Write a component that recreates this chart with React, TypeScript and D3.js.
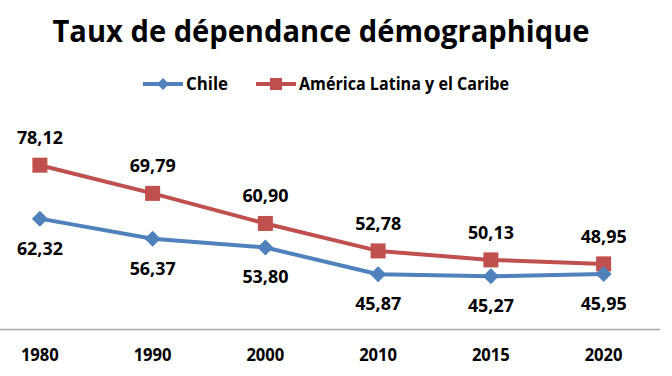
import React from "react";
import * as d3 from "d3";

const categories = ["1980", "1990", "2000", "2010", "2015", "2020"];
const chileValues = [62.32, 56.37, 53.8, 45.87, 45.27, 45.95];
const latamValues = [78.12, 69.79, 60.9, 52.78, 50.13, 48.95];
const seriesNames = ["Chile", "América Latina y el Caribe"];
const titleText = "Taux de dépendance démographique";

const W = 672;
const H = 376;
const FONT = "'Open Sans', 'DejaVu Sans', sans-serif";
const BLUE = "#4f81bd";
const RED = "#c0504d";

const fmt = (v: number) => v.toFixed(2).replace(".", ",");

export default function App() {
  const x = d3.scalePoint<string>().domain(categories).range([-16.5, 660]).padding(0.5);
  const y = d3.scaleLinear().domain([30, 90]).range([328, 125]);
  const line = d3
    .line<number>()
    .x((_, i) => x(categories[i]) as number)
    .y((d) => y(d));

  const diamond = (cx: number, cy: number, r: number) =>
    `M${cx},${cy - r}L${cx + r},${cy}L${cx},${cy + r}L${cx - r},${cy}Z`;

  return (
    <svg width={W} height={H} style={{ position: "absolute", left: 0, top: 0, background: "#fff" }}>
      <text x={321} y={42} textAnchor="middle" fontFamily={FONT} fontWeight="bold" fontSize={30.5} fill="#000" textLength={537} lengthAdjust="spacingAndGlyphs">
        {titleText}
      </text>
      {/* legend */}
      <g fontFamily={FONT} fontWeight="bold" fontSize={17} fill="#000">
        <line x1={143} x2={183} y1={84} y2={84} stroke={BLUE} strokeWidth={4} />
        <path d={diamond(163, 84, 6)} fill={BLUE} />
        <text x={186} y={90} textLength={42} lengthAdjust="spacingAndGlyphs">{seriesNames[0]}</text>
        <line x1={256} x2={296} y1={84} y2={84} stroke={RED} strokeWidth={4} />
        <rect x={270} y={78} width={12} height={12} fill={RED} />
        <text x={299} y={90} textLength={210} lengthAdjust="spacingAndGlyphs">{seriesNames[1]}</text>
      </g>
      {/* axis */}
      <line x1={0} x2={660} y1={329.5} y2={329.5} stroke="#a6a6a6" strokeWidth={1.5} />
      {categories.map((c) => (
        <text key={c} x={x(c)} y={361} textAnchor="middle" fontFamily={FONT} fontWeight="bold" fontSize={17} fill="#000" textLength={38} lengthAdjust="spacingAndGlyphs">
          {c}
        </text>
      ))}
      {/* lines */}
      <path d={line(latamValues) || ""} fill="none" stroke={RED} strokeWidth={4} strokeLinejoin="round" />
      <path d={line(chileValues) || ""} fill="none" stroke={BLUE} strokeWidth={4} strokeLinejoin="round" />
      {latamValues.map((v, i) => (
        <rect key={"r" + i} x={(x(categories[i]) as number) - 7.5} y={y(v) - 7.5} width={15} height={15} fill={RED} />
      ))}
      {chileValues.map((v, i) => (
        <path key={"b" + i} d={diamond(x(categories[i]) as number, y(v), 8)} fill={BLUE} />
      ))}
      {/* data labels */}
      <g fontFamily={FONT} fontWeight="bold" fontSize={18} fill="#000" textAnchor="middle">
        {latamValues.map((v, i) => (
          <text key={"lr" + i} x={x(categories[i])} y={y(v) - 21} textLength={46} lengthAdjust="spacingAndGlyphs">
            {fmt(v)}
          </text>
        ))}
        {chileValues.map((v, i) => (
          <text key={"lb" + i} x={x(categories[i])} y={y(v) + 36} textLength={46} lengthAdjust="spacingAndGlyphs">
            {fmt(v)}
          </text>
        ))}
      </g>
    </svg>
  );
}
